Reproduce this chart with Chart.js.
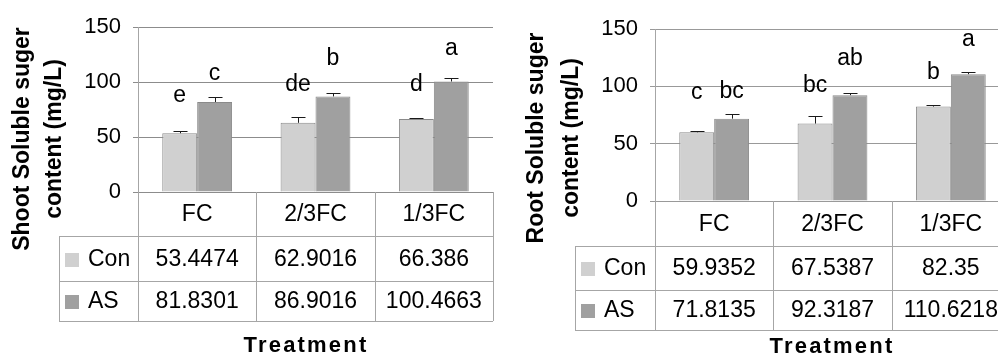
<!DOCTYPE html>
<html>
<head>
<meta charset="utf-8">
<script src="https://cdn.jsdelivr.net/npm/chart.js@4/dist/chart.umd.min.js"></script>
<style>
  html, body { margin: 0; padding: 0; background: #fff; overflow: hidden; }
  body { width: 998px; height: 356px; position: relative; }
  .panel { position: absolute; top: 0; }
</style>
</head>
<body>
<div class="panel" style="left:0"><canvas id="shoot" width="499" height="356"></canvas></div>
<div class="panel" style="left:499px"><canvas id="root" width="520" height="356"></canvas></div>
<script>
// Soluble sugar content under three watering regimes
const categories = ['FC', '2/3FC', '1/3FC'];
const seriesNames = ['Con', 'AS'];
const yTicks = [0, 50, 100, 150];

// Shoot
const shootCon = [53.4474, 62.9016, 66.386];
const shootAS = [81.8301, 86.9016, 100.4663];
const shootConErr = [2, 5.5, 0.5];
const shootASErr = [4.5, 2.8, 3];
const shootConLetters = ['e', 'de', 'd'];
const shootASLetters = ['c', 'b', 'a'];
const shootConLetterLevel = [82, 92, 92];
const shootASLetterLevel = [102, 115.5, 124.5];

// Root
const rootCon = [59.9352, 67.5387, 82.35];
const rootAS = [71.8135, 92.3187, 110.6218];
const rootConErr = [1.4, 6.8, 1.3];
const rootASErr = [4.3, 2.1, 2.1];
const rootConLetters = ['c', 'bc', 'b'];
const rootASLetters = ['bc', 'ab', 'a'];
const rootConLetterLevel = [88.7, 95.3, 106.4];
const rootASLetterLevel = [89.5, 119, 135.4];

const FONT = '"Liberation Sans", Arial, sans-serif';
const CON_COLOR = '#d0d0d0';
const AS_COLOR = '#a0a0a0';
const BAR_EDGE = '#8a8a8a';
const TABLE_LINE = '#a6a6a6';

function panelPlugin(p) {
  return {
    id: 'panelExtras',
    afterDatasetsDraw(chart) {
      const ctx = chart.ctx;
      const y = chart.scales.y;
      ctx.save();
      // upper error bars
      ctx.strokeStyle = '#1a1a1a';
      ctx.lineWidth = 1;
      p.errors.forEach((errs, d) => {
        const meta = chart.getDatasetMeta(d);
        errs.forEach((e, i) => {
          const bar = meta.data[i];
          const x = Math.round(bar.x) + 0.5;
          const y0 = y.getPixelForValue(p.values[d][i]);
          const y1 = Math.round(y.getPixelForValue(p.values[d][i] + e)) + 0.5;
          ctx.beginPath();
          ctx.moveTo(x, y0);
          ctx.lineTo(x, y1);
          ctx.moveTo(x - 7, y1);
          ctx.lineTo(x + 7, y1);
          ctx.stroke();
        });
      });
      // significance letters
      ctx.fillStyle = '#000';
      ctx.font = '23px ' + FONT;
      ctx.textAlign = 'center';
      ctx.textBaseline = 'alphabetic';
      p.letters.forEach((ls, d) => {
        const meta = chart.getDatasetMeta(d);
        ls.forEach((t, i) => {
          ctx.fillText(t, meta.data[i].x, y.getPixelForValue(p.letterLevels[d][i]));
        });
      });
      ctx.restore();
    },
    afterDraw(chart) {
      const ctx = chart.ctx;
      const a = chart.chartArea;
      const xs = chart.scales.x;
      const n = categories.length;
      const cw = (a.right - a.left) / n;
      const r0 = a.bottom, r1 = p.rows[0], r2 = p.rows[1], r3 = p.rows[2];
      ctx.save();
      ctx.strokeStyle = TABLE_LINE;
      ctx.lineWidth = 1;
      ctx.beginPath();
      // vertical cell borders
      for (let k = 0; k <= n; k++) {
        const x = Math.round(a.left + k * cw) + 0.5;
        ctx.moveTo(x, k === 0 ? a.top : r0);
        ctx.lineTo(x, r3);
      }
      const lx = p.legendLeft + 0.5;
      ctx.moveTo(lx, r1);
      ctx.lineTo(lx, r3);
      [r1, r2, r3].forEach(r => {
        ctx.moveTo(p.legendLeft, r + 0.5);
        ctx.lineTo(a.right, r + 0.5);
      });
      ctx.stroke();

      // table text
      ctx.fillStyle = '#000';
      ctx.font = '23px ' + FONT;
      ctx.textAlign = 'center';
      ctx.textBaseline = 'middle';
      categories.forEach((c, i) => {
        const cx = xs.getPixelForValue(i);
        ctx.fillText(c, cx, (r0 + r1) / 2 + 1);
        ctx.fillText(String(p.values[0][i]), cx, (r1 + r2) / 2 + 1);
        ctx.fillText(String(p.values[1][i]), cx, (r2 + r3) / 2 + 1);
      });
      // legend keys
      ctx.textAlign = 'left';
      [[r1, r2], [r2, r3]].forEach(([t, b], d) => {
        const cy = (t + b) / 2;
        ctx.fillStyle = d === 0 ? CON_COLOR : AS_COLOR;
        ctx.fillRect(p.legendLeft + 6, Math.round(cy - 6), 14, 14);
        ctx.fillStyle = '#000';
        ctx.fillText(seriesNames[d], p.legendLeft + 29, cy + 1);
      });

      // axis titles
      ctx.font = 'bold 23px ' + FONT;
      ctx.textAlign = 'center';
      ctx.textBaseline = 'middle';
      p.yTitle.forEach((line, k) => {
        ctx.save();
        ctx.translate(p.yTitleX[k], p.yTitleY);
        ctx.rotate(-Math.PI / 2);
        ctx.fillText(line, 0, 0);
        ctx.restore();
      });

      ctx.font = 'bold 22px ' + FONT;
      ctx.letterSpacing = '2.2px';
      ctx.fillText('Treatment', p.xTitle[0], p.xTitle[1]);
      ctx.restore();
    }
  };
}

function makeChart(id, p) {
  return new Chart(document.getElementById(id), {
    type: 'bar',
    data: {
      labels: categories,
      datasets: [
        { label: seriesNames[0], data: p.values[0], backgroundColor: CON_COLOR, borderColor: BAR_EDGE, borderWidth: 1 },
        { label: seriesNames[1], data: p.values[1], backgroundColor: AS_COLOR, borderColor: BAR_EDGE, borderWidth: 1 }
      ]
    },
    options: {
      responsive: false,
      animation: false,
      events: [],
      layout: { padding: p.padding },
      datasets: { bar: { categoryPercentage: 0.59, barPercentage: 1.0 } },
      plugins: { legend: { display: false }, tooltip: { enabled: false } },
      scales: {
        x: { display: false },
        y: {
          min: yTicks[0],
          max: yTicks[yTicks.length - 1],
          afterFit(scale) { scale.width = p.axisWidth; },
          afterBuildTicks(scale) { scale.ticks = yTicks.map(v => ({ value: v })); },
          ticks: { color: '#000', font: { family: FONT, size: 22 }, padding: 12 },
          grid: { color: p.gridColor, lineWidth: 1, tickLength: 5, tickColor: p.gridColor },
          border: { display: true, color: TABLE_LINE, width: 1 }
        }
      }
    },
    plugins: [panelPlugin(p)]
  });
}

makeChart('shoot', {
  values: [shootCon, shootAS],
  errors: [shootConErr, shootASErr],
  letters: [shootConLetters, shootASLetters],
  letterLevels: [shootConLetterLevel, shootASLetterLevel],
  padding: { left: 0, top: 27, right: 6, bottom: 164 },
  axisWidth: 138,
  gridColor: '#8c8c8c',
  rows: [236, 281, 321],
  legendLeft: 59,
  yTitle: ['Shoot Soluble suger', 'content (mg/L)'],
  yTitleX: [23, 55],
  yTitleY: 139,
  xTitle: [306, 346]
});

makeChart('root', {
  values: [rootCon, rootAS],
  errors: [rootConErr, rootASErr],
  letters: [rootConLetters, rootASLetters],
  letterLevels: [rootConLetterLevel, rootASLetterLevel],
  padding: { left: 0, top: 29, right: 9, bottom: 155 },
  axisWidth: 156,
  gridColor: '#999999',
  rows: [246, 290, 330],
  legendLeft: 76,
  yTitle: ['Root Soluble suger', 'content (mg/L)'],
  yTitleX: [38, 73],
  yTitleY: 138,
  xTitle: [333, 347]
});
</script>
</body>
</html>
